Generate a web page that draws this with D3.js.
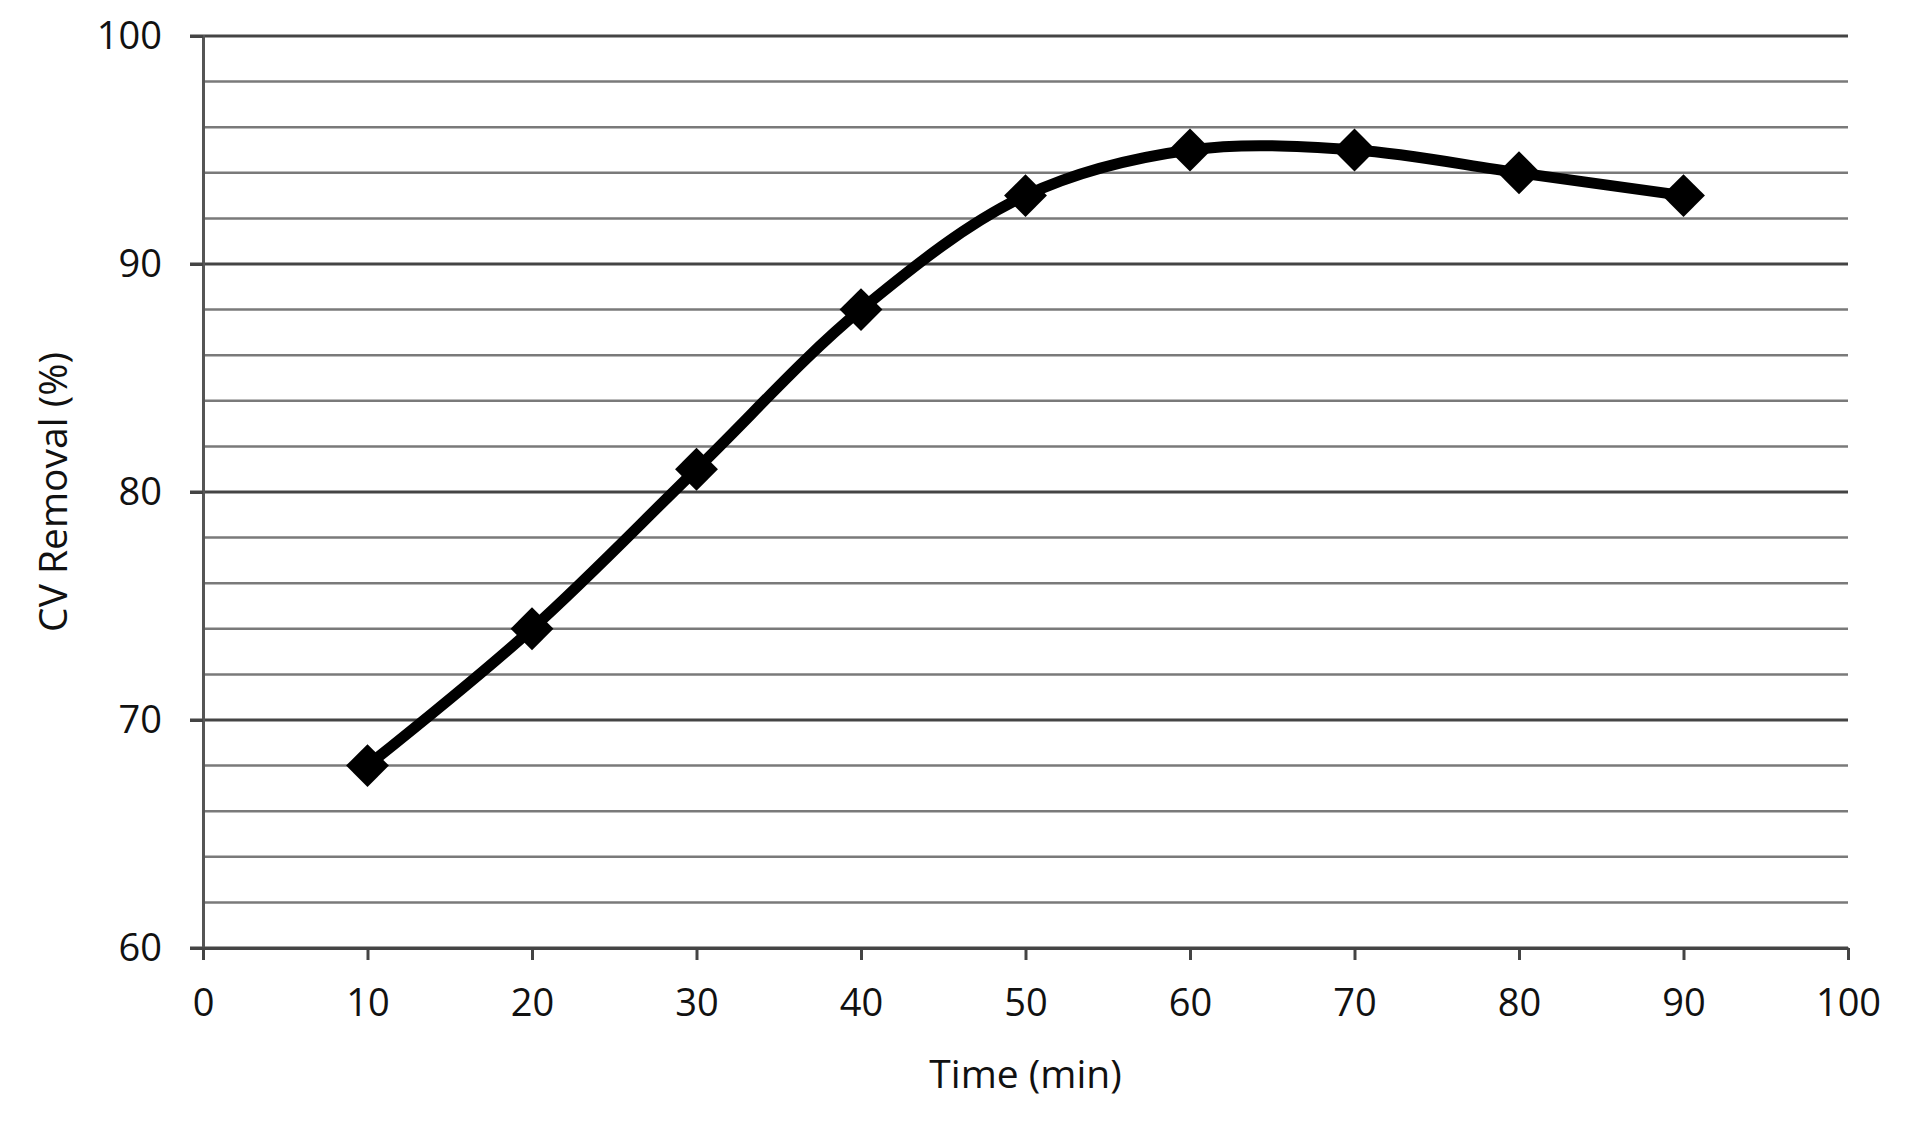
<!DOCTYPE html>
<html>
<head>
<meta charset="utf-8">
<script src="https://cdn.jsdelivr.net/npm/d3@7"></script>
<style>
  html, body { margin: 0; padding: 0; background: #fff; }
  svg { display: block; }
  text { font-family: "Open Sans", sans-serif; fill: #111; }
</style>
</head>
<body>
<svg id="chart" width="1917" height="1134"></svg>
<script>
const times = [10, 20, 30, 40, 50, 60, 70, 80, 90];
const removal = [68, 74, 81, 88, 93, 95, 95, 94, 93];
const xTicks = [0, 10, 20, 30, 40, 50, 60, 70, 80, 90, 100];
const yTicks = [60, 70, 80, 90, 100];
const yMinor = [62, 64, 66, 68, 72, 74, 76, 78, 82, 84, 86, 88, 92, 94, 96, 98];
const xTitle = "Time (min)";
const yTitle = "CV Removal (%)";

const svg = d3.select("#chart");
const pLeft = 203, pRight = 1848, pTop = 36, pBottom = 948;

const x = d3.scaleLinear().domain([0, 100]).range([pLeft, pRight]);
const y = d3.scaleLinear().domain([60, 100]).range([pBottom, pTop]);

// minor gridlines
svg.append("g").selectAll("line").data(yMinor).join("line")
  .attr("x1", pLeft).attr("x2", pRight)
  .attr("y1", d => y(d)).attr("y2", d => y(d))
  .attr("stroke", "#7a7a7a").attr("stroke-width", 2.5);

// major gridlines
svg.append("g").selectAll("line").data(yTicks).join("line")
  .attr("x1", pLeft - 13).attr("x2", pRight)
  .attr("y1", d => y(d)).attr("y2", d => y(d))
  .attr("stroke", "#444").attr("stroke-width", 3);

// y axis
const yAxis = svg.append("g").attr("transform", `translate(${pLeft},0)`)
  .call(d3.axisLeft(y).tickValues(yTicks).tickSize(13).tickPadding(28).tickFormat(d3.format("d")));
yAxis.select(".domain").attr("stroke", "#555").attr("stroke-width", 3);
yAxis.selectAll(".tick line").attr("stroke", "#444").attr("stroke-width", 3);
yAxis.selectAll(".tick text").style("font-size", "38px").style("font-family", "'Open Sans', sans-serif").attr("fill", "#111");

// x axis
const xAxis = svg.append("g").attr("transform", `translate(0,${pBottom})`)
  .call(d3.axisBottom(x).tickValues(xTicks).tickSizeInner(12).tickSizeOuter(0).tickPadding(29).tickFormat(d3.format("d")));
xAxis.select(".domain").attr("stroke", "#444").attr("stroke-width", 3);
xAxis.selectAll(".tick line").attr("stroke", "#444").attr("stroke-width", 3);
xAxis.selectAll(".tick text").style("font-size", "38px").style("font-family", "'Open Sans', sans-serif").attr("fill", "#111");

// line
const data = times.map((t, i) => ({ t, v: removal[i] }));
const line = d3.line().x(d => x(d.t)).y(d => y(d.v)).curve(d3.curveCatmullRom.alpha(0.5));
svg.append("path").datum(data)
  .attr("d", line)
  .attr("fill", "none").attr("stroke", "#000").attr("stroke-width", 11)
  .attr("stroke-linejoin", "round");

// markers (diamonds)
const diamond = d3.symbol().type(d3.symbolSquare).size(920);
svg.append("g").selectAll("path").data(data).join("path")
  .attr("d", diamond)
  .attr("transform", d => `translate(${x(d.t)},${y(d.v)}) rotate(45)`)
  .attr("fill", "#000");

// titles
svg.append("text")
  .attr("x", (pLeft + pRight) / 2).attr("y", 1088)
  .attr("text-anchor", "middle").style("font-size", "39px")
  .text(xTitle);

svg.append("text")
  .attr("transform", `translate(67,${(pTop + pBottom) / 2}) rotate(-90)`)
  .attr("text-anchor", "middle").style("font-size", "39px")
  .text(yTitle);
</script>
</body>
</html>
